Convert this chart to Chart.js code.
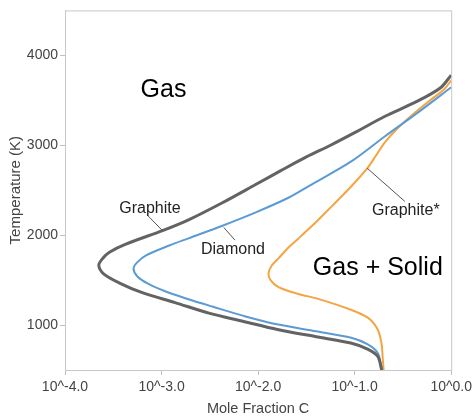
<!DOCTYPE html>
<html>
<head>
<meta charset="utf-8">
<script src="https://cdn.jsdelivr.net/npm/chart.js@4"></script>
<style>
  html, body { margin: 0; padding: 0; background: #fff; }
  canvas { display: block; }
</style>
</head>
<body>
<canvas id="myChart" width="476" height="418"></canvas>
<script>
// log10(mole fraction C) vs temperature, traced around each boundary
const GRAPHITE_T = [500, 650, 730, 800, 870, 950, 1040, 1130, 1250, 1360, 1470, 1570, 1665, 1740, 1810, 1900, 2050, 2170, 2360, 2560, 2720, 2870, 3000, 3140, 3320, 3490, 3640, 3780];
const GRAPHITE_X = [-0.72, -0.76, -0.86, -1.04, -1.40, -1.80, -2.15, -2.50, -2.86, -3.20, -3.44, -3.60, -3.65, -3.61, -3.54, -3.37, -2.99, -2.72, -2.37, -2.03, -1.76, -1.50, -1.25, -1.00, -0.69, -0.35, -0.11, 0.0];

const DIAMOND_T = [500, 550, 690, 785, 858, 931, 1005, 1096, 1206, 1290, 1370, 1460, 1540, 1628, 1700, 1775, 1885, 1967, 2105, 2251, 2416, 2563, 2820, 3095, 3360, 3645];
const DIAMOND_X = [-0.715, -0.725, -0.76, -0.864, -1.035, -1.40, -1.79, -2.13, -2.475, -2.73, -2.95, -3.14, -3.25, -3.29, -3.25, -3.16, -2.92, -2.715, -2.37, -2.03, -1.686, -1.447, -1.035, -0.692, -0.35, 0.0];

const GRAPHITE_S_T = [500, 642, 785, 950, 1082, 1170, 1291, 1346, 1423, 1500, 1577, 1660, 1741, 1862, 1961, 2115, 2280, 2446, 2622, 2750, 2880, 3030, 3190, 3359, 3502, 3623, 3722];
const GRAPHITE_S_X = [-0.70, -0.71, -0.72, -0.761, -0.864, -1.039, -1.378, -1.584, -1.789, -1.871, -1.892, -1.86, -1.789, -1.686, -1.584, -1.43, -1.275, -1.121, -0.967, -0.864, -0.782, -0.689, -0.555, -0.38, -0.216, -0.072, 0.0];

const X_TICKS = [-4, -3, -2, -1, 0];
const Y_TICKS = [1000, 2000, 3000, 4000];

// text labels in data units (x = log10 mole fraction, y = K)
const LABELS = [
  { text: "Gas", x: -2.98, y: 3610, size: 25 },
  { text: "Gas + Solid", x: -0.76, y: 1630, size: 25 },
  { text: "Graphite", x: -3.12, y: 2300, size: 16 },
  { text: "Diamond", x: -2.26, y: 1840, size: 16 },
  { text: "Graphite*", x: -0.47, y: 2270, size: 16 },
];
const LEADERS = [
  { from: [-3.15, 2226], to: [-2.99, 2050] },
  { from: [-2.24, 1945], to: [-2.355, 2085] },
  { from: [-0.48, 2375], to: [-0.87, 2745] },
];

const toPoints = (xs, ts) => xs.map((x, i) => ({ x: x, y: ts[i] }));

const FONT = "'Liberation Sans', Arial, sans-serif";

const line = (label, xs, ts, color, width) => ({
  label: label,
  data: toPoints(xs, ts),
  showLine: true,
  borderColor: color,
  borderWidth: width,
  pointRadius: 0,
  tension: 0.3,
  fill: false,
});

// box round the plot area
const frame = {
  id: "frame",
  beforeDatasetsDraw(chart) {
    const { ctx, chartArea: a } = chart;
    ctx.save();
    ctx.strokeStyle = "#c8c8c8";
    ctx.lineWidth = 1;
    ctx.strokeRect(a.left + 0.5, a.top + 0.5, a.right - a.left, a.bottom - a.top);
    ctx.restore();
  },
};

// region names and curve labels
const notes = {
  id: "notes",
  afterDatasetsDraw(chart) {
    const { ctx, scales } = chart;
    const px = (x) => scales.x.getPixelForValue(x);
    const py = (y) => scales.y.getPixelForValue(y);
    ctx.save();
    ctx.strokeStyle = "#555";
    ctx.lineWidth = 1;
    LEADERS.forEach((l) => {
      ctx.beginPath();
      ctx.moveTo(px(l.from[0]), py(l.from[1]));
      ctx.lineTo(px(l.to[0]), py(l.to[1]));
      ctx.stroke();
    });
    ctx.textAlign = "center";
    ctx.textBaseline = "middle";
    LABELS.forEach((l) => {
      ctx.fillStyle = l.size > 20 ? "#000" : "#222";
      ctx.font = l.size + "px " + FONT;
      ctx.fillText(l.text, px(l.x), py(l.y));
    });
    ctx.restore();
  },
};

const ctx = document.getElementById("myChart").getContext("2d");

const myChart = new Chart(ctx, {
  type: "scatter",
  data: {
    datasets: [
      line("Graphite", GRAPHITE_X, GRAPHITE_T, "#636363", 3),
      line("Diamond", DIAMOND_X, DIAMOND_T, "#5b9bd5", 2),
      line("Graphite*", GRAPHITE_S_X, GRAPHITE_S_T, "#f5a442", 2),
    ],
  },
  options: {
    responsive: false,
    animation: false,
    devicePixelRatio: 1,
    layout: { padding: { top: 7, right: 22, left: 0, bottom: 0 } },
    plugins: {
      legend: { display: false },
      tooltip: { enabled: false },
    },
    scales: {
      x: {
        type: "linear",
        min: -4,
        max: 0,
        afterBuildTicks: (s) => { s.ticks = X_TICKS.map((v) => ({ value: v })); },
        afterFit: (s) => { s.height = 48; },
        grid: { drawOnChartArea: false, tickLength: 5, tickColor: "#c0c0c0" },
        border: { color: "#c0c0c0" },
        ticks: {
          color: "#444",
          font: { family: FONT, size: 14 },
          padding: 4,
          maxRotation: 0,
          callback: (v) => "10^" + Number(v).toFixed(1),
        },
        title: {
          display: true,
          text: "Mole Fraction C",
          color: "#444",
          font: { family: FONT, size: 14.5 },
          padding: { top: 1, bottom: 0 },
        },
      },
      y: {
        min: 500,
        max: 4500,
        afterBuildTicks: (s) => { s.ticks = Y_TICKS.map((v) => ({ value: v })); },
        afterFit: (s) => { s.width = 65; },
        grid: { drawOnChartArea: false, tickLength: 5, tickColor: "#c0c0c0" },
        border: { color: "#c0c0c0" },
        ticks: {
          color: "#444",
          font: { family: FONT, size: 14 },
          padding: 2,
          callback: (v) => String(v),
        },
        title: {
          display: true,
          text: "Temperature (K)",
          color: "#444",
          font: { family: FONT, size: 15 },
          padding: { top: 7, bottom: 0 },
        },
      },
    },
  },
  plugins: [frame, notes],
});
</script>
</body>
</html>
